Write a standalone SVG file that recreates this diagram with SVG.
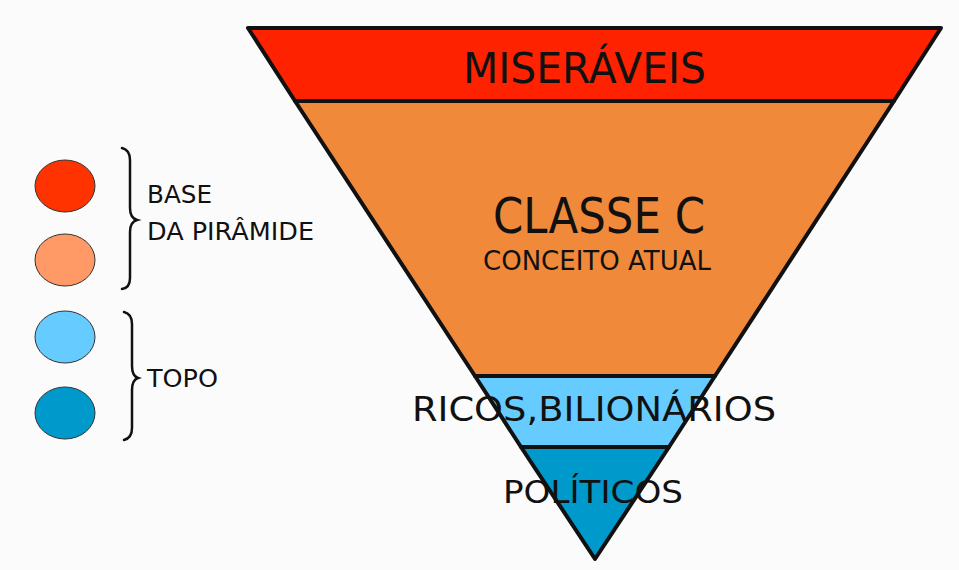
<svg xmlns="http://www.w3.org/2000/svg" width="959" height="570" viewBox="0 0 959 570">
<style>
.band{stroke:#111;stroke-width:4;stroke-linejoin:round}
.leg{stroke:#333;stroke-width:1}
.brace{fill:none;stroke:#111;stroke-width:2.5;stroke-linecap:round}
text{font-family:"DejaVu Sans","Open Sans",sans-serif;fill:#111}
</style>
<rect width="959" height="570" fill="#fbfbfb"/>
<g id="miseraveis">
<polygon class="band" points="248,28 941,28 894,101 295,101" fill="#ff2200"/>
<text x="463" y="83" font-size="43" textLength="243" lengthAdjust="spacingAndGlyphs">MISERÁVEIS</text>
</g>
<g id="classe-c">
<polygon class="band" points="295,101 894,101 715,376 475,376" fill="#f0893a"/>
<text x="493" y="233" font-size="49" textLength="212" lengthAdjust="spacingAndGlyphs">CLASSE C</text>
<text x="483" y="270" font-size="27" textLength="228" lengthAdjust="spacingAndGlyphs">CONCEITO ATUAL</text>
</g>
<g id="ricos">
<polygon class="band" points="475,376 715,376 669,447 521,447" fill="#66ccff"/>
<text x="412" y="421" font-size="34" textLength="364" lengthAdjust="spacingAndGlyphs">RICOS,BILIONÁRIOS</text>
</g>
<g id="politicos">
<polygon class="band" points="521,447 669,447 595,559" fill="#0099cc"/>
<text x="503" y="503" font-size="32" textLength="180" lengthAdjust="spacingAndGlyphs">POLÍTICOS</text>
</g>
<g id="legend">
<ellipse class="leg" cx="65" cy="186" rx="30" ry="26" fill="#ff3300"/>
<ellipse class="leg" cx="65" cy="260" rx="30" ry="26" fill="#ff9966"/>
<ellipse class="leg" cx="65" cy="337" rx="30" ry="26" fill="#66ccff"/>
<ellipse class="leg" cx="65" cy="413" rx="30" ry="26" fill="#0099cc"/>
</g>
<g id="brace-base">
<path class="brace" d="M122,148 Q130,150 130,160 L130,208 Q130,218 137,220 Q130,222 130,232 L130,278 Q130,288 122,289"/>
<text x="147" y="203" font-size="25" textLength="65" lengthAdjust="spacingAndGlyphs">BASE</text>
<text x="147" y="240" font-size="25" textLength="167" lengthAdjust="spacingAndGlyphs">DA PIRÂMIDE</text>
</g>
<g id="brace-topo">
<path class="brace" d="M124,312 Q132,314 132,324 L132,366 Q132,376 138,378 Q132,380 132,390 L132,428 Q132,438 124,440"/>
<text x="147" y="387" font-size="25" textLength="71" lengthAdjust="spacingAndGlyphs">TOPO</text>
</g>
</svg>
